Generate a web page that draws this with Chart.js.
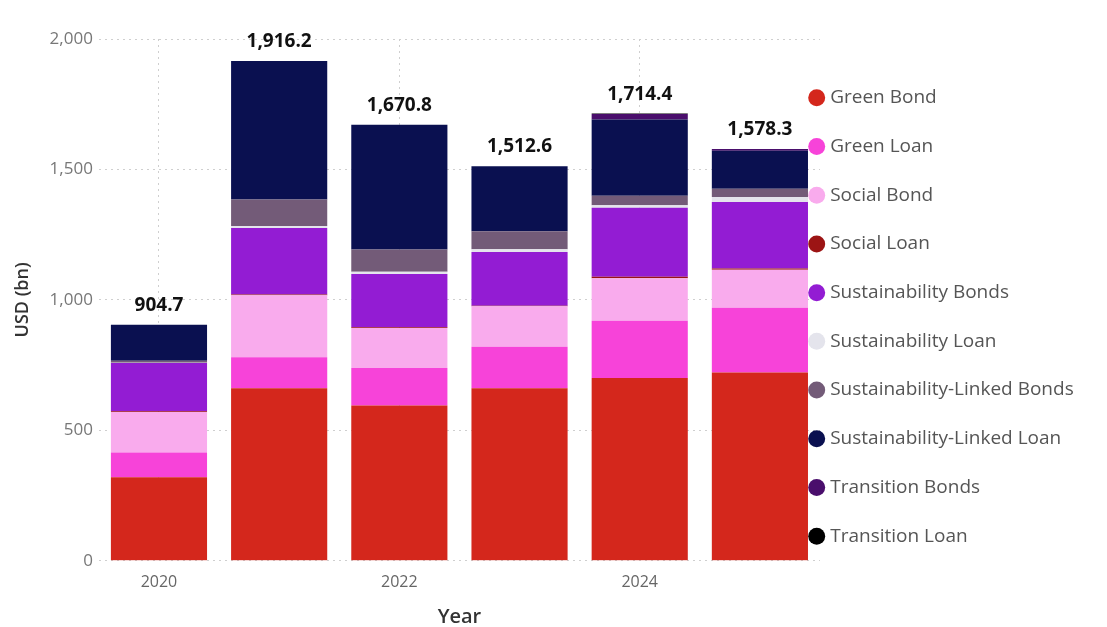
<!DOCTYPE html>
<html>
<head>
<meta charset="utf-8">
<script src="https://cdn.jsdelivr.net/npm/chart.js@4.4.1/dist/chart.umd.min.js"></script>
<style>
  html, body { margin: 0; padding: 0; background: #ffffff; }
  #wrap { width: 1107px; height: 627px; position: relative; }
</style>
</head>
<body>
<div id="wrap"><canvas id="bondChart"></canvas></div>
<script>
// values, USD bn
const years = ["2020", "2021", "2022", "2023", "2024", "2025"];
const totals = [904.7, 1916.2, 1670.8, 1512.6, 1714.4, 1578.3];

const greenBond = [320, 661, 595, 661, 701, 722];
const greenLoan = [95, 119, 144, 159, 219, 248];
const socialBond = [155, 238, 153, 156, 163, 146];
const socialLoan = [3, 3, 3, 2, 6, 4];
const sustainabilityBonds = [185, 255, 204, 206, 264, 255];
const sustainabilityLoan = [1, 7, 9, 10, 10, 19];
const sustLinkedBonds = [8, 102, 85, 69, 36, 32];
const sustLinkedLoan = [138, 531, 478, 249, 292, 146];
const transitionBonds = [0, 0, 0, 0, 22, 6];
const transitionLoan = [0, 0, 0, 0, 1, 0];

const yTicks = [0, 500, 1000, 1500, 2000];

const FONT = "'Open Sans', 'Noto Sans', sans-serif";

function series(label, data, color) {
    return {
        label: label,
        data: data,
        backgroundColor: color,
        borderColor: color,
        borderWidth: 0,
        barPercentage: 0.8,
        categoryPercentage: 1.0,
    };
}

// totals above each stack
const totalLabels = {
    id: "totalLabels",
    afterDatasetsDraw(chart) {
        const ctx = chart.ctx;
        const x = chart.scales.x;
        const y = chart.scales.y;
        ctx.save();
        ctx.font = "bold 19px " + FONT;
        ctx.fillStyle = "#111111";
        ctx.textAlign = "center";
        ctx.textBaseline = "alphabetic";
        totals.forEach((t, i) => {
            const label = t.toLocaleString("en-US", { minimumFractionDigits: 1, maximumFractionDigits: 1 });
            ctx.fillText(label, x.getPixelForValue(i), y.getPixelForValue(t) - 14);
        });
        ctx.restore();
    },
};

// let the legend sit close to the plot like the original
const legendPlace = {
    id: "legendPlace",
    beforeInit(chart) {
        const fit = chart.legend.fit;
        chart.legend.fit = function () {
            fit.call(this);
            this.width = 287;
        };
    },
    afterLayout(chart) {
        const lg = chart.legend;
        lg.left = 783;
        lg.right = chart.width;
        lg.top -= 16;
        lg.bottom -= 16;
    },
};

const ctx = document.getElementById("bondChart").getContext("2d");

new Chart(ctx, {
    type: "bar",
    data: {
        labels: years,
        datasets: [
            series("Green Bond", greenBond, "#d4271c"),
            series("Green Loan", greenLoan, "#f743d9"),
            series("Social Bond", socialBond, "#f9abed"),
            series("Social Loan", socialLoan, "#9c1414"),
            series("Sustainability Bonds", sustainabilityBonds, "#931cd3"),
            series("Sustainability Loan", sustainabilityLoan, "#e4e4ec"),
            series("Sustainability-Linked Bonds", sustLinkedBonds, "#735b78"),
            series("Sustainability-Linked Loan", sustLinkedLoan, "#0a1050"),
            series("Transition Bonds", transitionBonds, "#4a0e6c"),
            series("Transition Loan", transitionLoan, "#000000"),
        ],
    },
    options: {
        responsive: true,
        maintainAspectRatio: false,
        animation: false,
        layout: {
            padding: { top: 39, left: 4, right: 0, bottom: 0 },
        },
        plugins: {
            tooltip: { enabled: false },
            legend: {
                position: "right",
                align: "center",
                labels: {
                    usePointStyle: true,
                    pointStyle: "circle",
                    boxWidth: 8,
                    boxHeight: 12,
                    padding: 29.7,
                    color: "#555555",
                    font: { family: FONT, size: 19 },
                },
            },
        },
        scales: {
            x: {
                stacked: true,
                border: { display: false, dash: [2, 4] },
                grid: {
                    offset: false,
                    drawTicks: false,
                    color: (c) => (c.index % 2 === 0 ? "#cfcfcf" : "rgba(0,0,0,0)"),
                },
                ticks: {
                    autoSkip: false,
                    maxRotation: 0,
                    padding: 12,
                    color: "#666666",
                    font: { family: FONT, size: 16 },
                    callback: function (v, i) {
                        return i % 2 === 0 ? this.getLabelForValue(v) : "";
                    },
                },
                title: {
                    display: true,
                    text: "Year",
                    color: "#333333",
                    font: { family: FONT, size: 20, weight: "600", lineHeight: 1 },
                    padding: { top: 3, bottom: 0 },
                },
            },
            y: {
                stacked: true,
                min: 0,
                max: 2000,
                border: { display: false, dash: [2, 4] },
                grid: {
                    drawTicks: false,
                    color: "#cfcfcf",
                },
                afterBuildTicks: (scale) => {
                    scale.ticks = yTicks.map((v) => ({ value: v }));
                },
                ticks: {
                    padding: 6,
                    color: "#777777",
                    font: { family: FONT, size: 17 },
                    callback: (v) => v.toLocaleString("en-US"),
                },
                title: {
                    display: true,
                    text: "USD (bn)",
                    color: "#333333",
                    font: { family: FONT, size: 18, weight: "600" },
                    padding: { top: 8, bottom: 10 },
                },
            },
        },
    },
    plugins: [totalLabels, legendPlace],
});
</script>
</body>
</html>
